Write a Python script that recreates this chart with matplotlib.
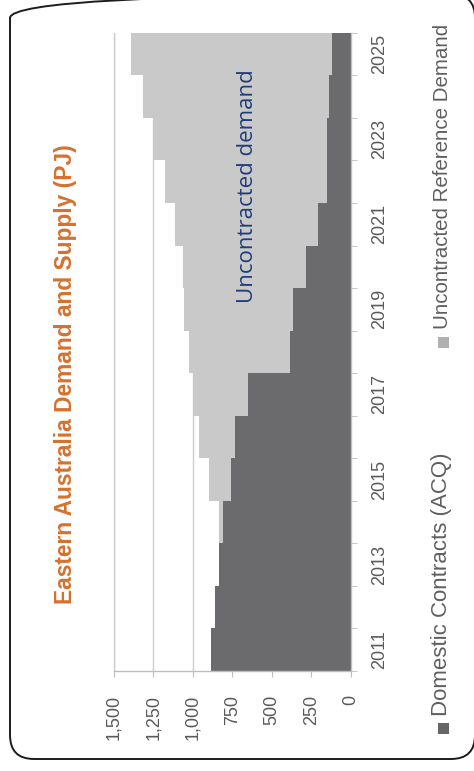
import matplotlib
matplotlib.use("Agg")
import matplotlib.pyplot as plt
from matplotlib.patches import FancyBboxPatch, Rectangle
from matplotlib.transforms import IdentityTransform
from matplotlib.ticker import FuncFormatter
import numpy as np

# Eastern Australia gas demand and supply, PJ per year
years = list(range(2011, 2026))
domestic_contracts = [887, 858, 832, 811, 761, 731, 653, 385, 368, 283, 205, 148, 148, 135, 120]
uncontracted_demand = [0, 0, 0, 24, 137, 228, 349, 640, 689, 782, 909, 1029, 1107, 1184, 1275]
value_ticks = [0, 250, 500, 750, 1000, 1250, 1500]
year_ticks = [2011, 2013, 2015, 2017, 2019, 2021, 2023, 2025]

title = "Eastern Australia Demand and Supply (PJ)"
series_names = ["Domestic Contracts (ACQ)", "Uncontracted Reference Demand"]
note = "Uncontracted demand"

DARK = "#6b6b6d"
LIGHT = "#c9c9c9"
GRID = "#cccccc"
TICK_TXT = "#5a5a5a"

W, H = 474, 771
plt.rcParams['font.family'] = ['Liberation Sans', 'DejaVu Sans']
fig = plt.figure(figsize=(W / 100, H / 100), dpi=100)
fig.patch.set_facecolor("white")

def fx(px):
    return px / W

def fy(py):
    return 1 - py / H

# rounded card outline
card = FancyBboxPatch((10, H - 759), 465, 759 + 6, boxstyle="round,pad=0,rounding_size=24",
                      transform=IdentityTransform(), fill=False, ec="#1c1c1c", lw=1.4)
fig.add_artist(card)

# chart drawn sideways: years run up the page, values run right-to-left
ax = fig.add_axes([fx(114), fy(671), fx(350.7) - fx(114), fy(32.8) - fy(671)])
ax.barh(years, domestic_contracts, height=1.0, color=DARK, lw=0, zorder=2)
ax.barh(years, uncontracted_demand, left=domestic_contracts, height=1.0, color=LIGHT, lw=0, zorder=2)
ax.set_xlim(1500, 0)
ax.set_ylim(2010.5, 2025.5)

ax.set_axisbelow(True)
ax.xaxis.grid(True, color=GRID, lw=1.0)

ax.spines["top"].set_visible(False)
ax.spines["left"].set_color(GRID)
ax.spines["bottom"].set_color("#bdbdbd")
ax.spines["right"].set_color("#bdbdbd")
for s in ax.spines.values():
    s.set_linewidth(1.0)

ax.set_xticks(value_ticks)
ax.xaxis.set_major_formatter(FuncFormatter(lambda v, p: f"{int(v):,}"))
ax.tick_params(axis="x", length=4, color="#bdbdbd", pad=13, labelsize=13,
               labelcolor=TICK_TXT, labelrotation=90)

ax.yaxis.tick_right()
ax.set_yticks(year_ticks)
ax.set_yticks(np.arange(2010.5, 2026, 1.0), minor=True)
ax.tick_params(axis="y", which="major", length=0, pad=15, labelsize=13,
               labelcolor=TICK_TXT, labelrotation=90)
ax.tick_params(axis="y", which="minor", length=4, color="#bdbdbd", direction="out")
for lab in ax.get_yticklabels():
    lab.set_va("center")
    lab.set_ha("left")

ax.text(657, 2021.9, note, rotation=90, ha="center", va="center", color="#1f3d7a",
        fontsize=16, family=["Open Sans", "DejaVu Sans"], zorder=5)

fig.text(fx(66), fy(374), title, rotation=90, ha="center", va="center",
         fontsize=16.4, fontweight="bold", color="#d4712f")

# legend
fig.add_artist(Rectangle((443.5 - 5.5, H - 728 - 5.5), 11, 11, transform=IdentityTransform(),
                         fc="#666666", ec="none"))
fig.text(fx(442), fy(716), series_names[0], rotation=90, ha="center", va="bottom",
         fontsize=16, color="#5f5f5f")
fig.add_artist(Rectangle((443 - 5.5, H - 342 - 5.5), 11, 11, transform=IdentityTransform(),
                         fc="#b0b0b0", ec="none"))
fig.text(fx(442), fy(329), series_names[1], rotation=90, ha="center", va="bottom",
         fontsize=14.8, color="#5f5f5f")

fig.savefig("out.png", dpi=100)
